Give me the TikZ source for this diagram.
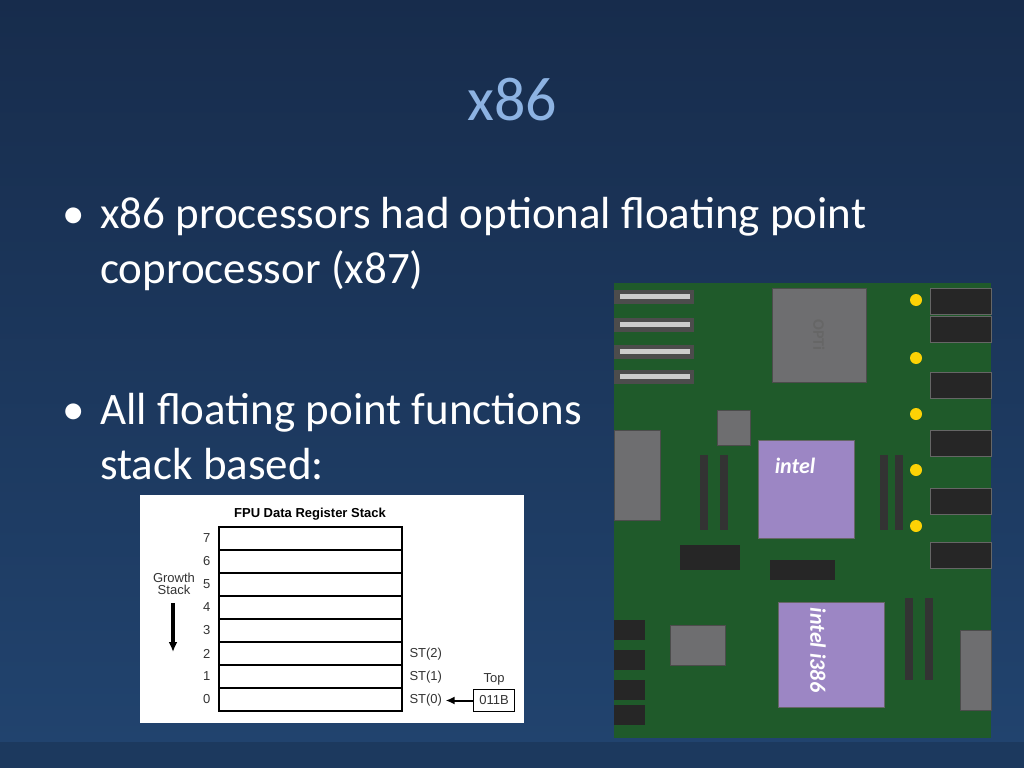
\documentclass[tikz,border=0pt]{standalone}
\usepackage{fontspec}
\setmainfont{Carlito}
\newfontfamily\diagfont{Liberation Sans}
\usetikzlibrary{arrows.meta}
\definecolor{bgtop}{HTML}{172C4C}
\definecolor{bgbot}{HTML}{21436E}
\definecolor{titleblue}{HTML}{8DB3E2}
\definecolor{board}{HTML}{1F5A2A}
\definecolor{chipgray}{HTML}{6E6E70}
\definecolor{intel}{HTML}{9C86C4}
\tikzset{
  reg/.style={draw=black, line width=1.6pt, minimum width=183pt, minimum height=23pt, inner sep=0pt, anchor=north west},
  idx/.style={font=\diagfont\fontsize{13}{13}\selectfont, text=black!80},
  bullet/.style={font=\fontsize{45}{45}\selectfont, text=white, anchor=base west, inner sep=0pt},
  slot/.style={fill=black!85, draw=black!60},
  chip/.style={fill=chipgray, draw=black!70},
  cpu/.style={fill=intel, draw=black!60, line width=1pt}
}
\begin{document}
\begin{tikzpicture}[x=1pt,y=-1pt]
\useasboundingbox (0,0) rectangle (1024,768);
\shade[top color=bgtop, bottom color=bgbot] (0,0) rectangle (1024,742);
\fill[bgbot!85!black] (0,742) rectangle (1024,768);
% title and bullets
\node[font=\fontsize{62}{62}\selectfont, text=titleblue] (title) at (512,100) {x86};
\node[bullet] (b1) at (62,228) {\textbullet};
\node[bullet] (t1a) at (100,228) {x86 processors had optional floating point};
\node[bullet] (t1b) at (100,283) {coprocessor (x87)};
\node[bullet] (b2) at (62,424) {\textbullet};
\node[bullet] (t2a) at (100,424) {All floating point functions};
\node[bullet] (t2b) at (100,479) {stack based:};
% stack diagram
\fill[white] (140,495) rectangle (524,723);
\node[font=\diagfont\bfseries\fontsize{13}{13}\selectfont] (stacktitle) at (310,514) {FPU Data Register Stack};
\foreach \i in {0,...,7} {
  \node[reg] (r\i) at (218,{526+(7-\i)*23}) {};
  \node[idx, anchor=east] (n\i) at (214,{538.5+(7-\i)*23}) {\i};
}
\foreach \i in {0,1,2}
  \node[idx, anchor=west] (st\i) at (406,{539.5+(7-\i)*23}) {ST(\i)};
\node[idx, draw=black, line width=1.4pt, minimum width=41pt, minimum height=22pt, inner sep=0pt] (top) at (494,700.5) {011B};
\node[idx, anchor=south] (toplabel) at (top.north) {Top};
\draw[-{Latex[length=9pt,width=8pt]}, line width=2pt] (top.west) -- (st0.east);
\node[idx, align=center, font=\diagfont\fontsize{13}{12}\selectfont] (growth) at (174,584) {Growth\\Stack};
\coordinate (g1) at (173,603);
\coordinate (g2) at (173,652);
\draw[-{Latex[length=10pt,width=9pt]}, line width=4pt] (g1) -- (g2);
% motherboard photo
\fill[board] (614,283) rectangle (991,738);
\foreach \y in {290,318,345,370} \fill[black!70] (614,\y) rectangle (694,{\y+14});
\foreach \y in {290,318,345,370} \fill[black!20] (620,{\y+4}) rectangle (690,{\y+9});
\foreach \y in {288,316,372,430,488,542} \draw[slot] (930,\y) rectangle (991,{\y+26});
\foreach \y in {300,358,414,470,526} \fill[yellow!70!orange] (916,\y) circle (6);
\draw[chip] (772,288) rectangle (866,382);
\node[text=black!60, font=\bfseries\fontsize{16}{16}\selectfont, rotate=-90] (opti) at (819,335) {OPTi};
\draw[chip] (614,430) rectangle (660,520);
\draw[chip] (717,410) rectangle (750,445);
\draw[cpu] (758,440) rectangle (854,538);
\node[font=\itshape\bfseries\fontsize{22}{22}\selectfont, text=white] (intel1) at (795,466) {intel};
\draw[cpu] (778,602) rectangle (884,707);
\node[font=\itshape\bfseries\fontsize{22}{22}\selectfont, text=white, rotate=-90] (intel2) at (818,650) {intel i386};
\foreach \x in {700,720,880,895} \fill[black!80] (\x,455) rectangle ({\x+8},530);
\foreach \x in {905,925} \fill[black!80] (\x,598) rectangle ({\x+8},680);
\draw[chip] (960,630) rectangle (991,710);
\draw[chip] (670,625) rectangle (725,665);
\foreach \y in {620,650,680,705} \fill[black!85] (614,\y) rectangle (645,{\y+20});
\fill[black!85] (680,545) rectangle (740,570);
\fill[black!85] (770,560) rectangle (835,580);
\end{tikzpicture}
\end{document}
